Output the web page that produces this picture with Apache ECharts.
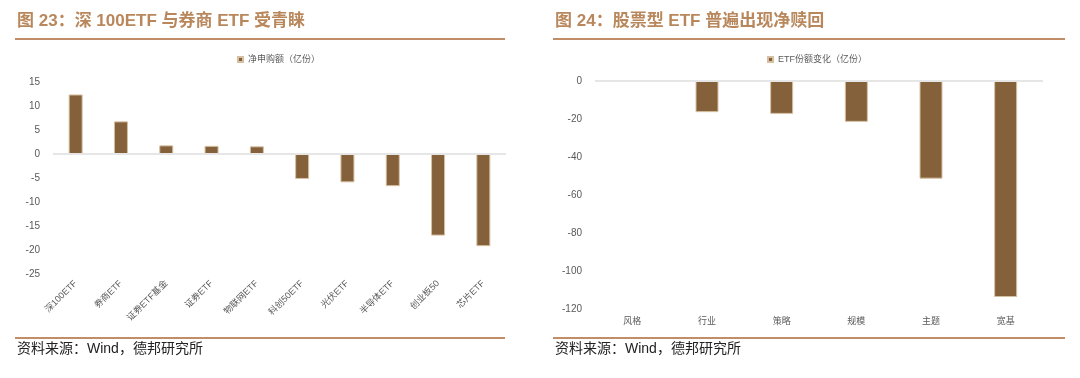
<!DOCTYPE html>
<html>
<head>
<meta charset="utf-8">
<script src="https://cdn.jsdelivr.net/npm/echarts@6/dist/echarts.min.js"></script>
<style>
  html, body { margin: 0; padding: 0; background: #fff; }
  #main { width: 1080px; height: 378px; }
</style>
</head>
<body>
<div id="main"></div>
<script>
// 图23 净申购额
var leftCats = ['深100ETF', '券商ETF', '证券ETF基金', '证券ETF', '物联网ETF', '科创50ETF', '光伏ETF', '半导体ETF', '创业板50', '芯片ETF'];
var leftVals = [12.4, 6.8, 1.8, 1.7, 1.6, -5.2, -5.9, -6.7, -17.0, -19.2];
// 图24 ETF份额变化
var rightCats = ['风格', '行业', '策略', '规模', '主题', '宽基'];
var rightVals = [0, -16.4, -17.3, -21.5, -51.4, -113.7];

var leftName = '净申购额（亿份）';
var rightName = 'ETF份额变化（亿份）';

var barColor = '#84613a';
var brown = '#b9875c';
var gray = '#595959';
var cjk = '"Liberation Sans", "Noto Sans CJK SC", sans-serif';

var myChart = echarts.init(document.getElementById('main'));

function zeroLine() {
  return {
    silent: true,
    symbol: 'none',
    label: { show: false },
    lineStyle: { color: '#e6e6e6', width: 2, type: 'solid' },
    data: [{ yAxis: 0 }]
  };
}

myChart.setOption({
  animation: false,
  legend: [
    {
      data: [leftName],
      left: 232, top: 50,
      icon: 'rect', itemWidth: 5, itemHeight: 5, itemGap: 2,
      textStyle: { color: gray, fontSize: 9, fontFamily: cjk }
    },
    {
      data: [rightName],
      left: 762, top: 50,
      icon: 'rect', itemWidth: 5, itemHeight: 5, itemGap: 2,
      textStyle: { color: gray, fontSize: 9, fontFamily: cjk }
    }
  ],
  grid: [
    { left: 53, top: 82, width: 453, height: 192 },
    { left: 595, top: 81, width: 448, height: 228 }
  ],
  xAxis: [
    {
      type: 'category', gridIndex: 0, data: leftCats,
      axisLine: { show: false, onZero: false },
      axisTick: { show: false },
      axisLabel: { interval: 0, rotate: 45, color: gray, fontSize: 9, fontFamily: cjk, margin: 8 }
    },
    {
      type: 'category', gridIndex: 1, data: rightCats,
      axisLine: { show: false, onZero: false },
      axisTick: { show: false },
      axisLabel: { interval: 0, color: gray, fontSize: 9, fontFamily: cjk, margin: 8 }
    }
  ],
  yAxis: [
    {
      type: 'value', gridIndex: 0, min: -25, max: 15, interval: 5,
      axisLine: { show: false }, axisTick: { show: false }, splitLine: { show: false },
      axisLabel: { color: gray, fontSize: 10, fontFamily: cjk, margin: 13 }
    },
    {
      type: 'value', gridIndex: 1, min: -120, max: 0, interval: 20,
      axisLine: { show: false }, axisTick: { show: false }, splitLine: { show: false },
      axisLabel: { color: gray, fontSize: 10, fontFamily: cjk, margin: 13 }
    }
  ],
  series: [
    {
      name: leftName, type: 'bar', xAxisIndex: 0, yAxisIndex: 0,
      data: leftVals, barWidth: 14,
      itemStyle: { color: barColor, borderColor: '#d6c0a2', borderWidth: 1 },
      markLine: zeroLine(), z: 3
    },
    {
      name: rightName, type: 'bar', xAxisIndex: 1, yAxisIndex: 1,
      data: rightVals, barWidth: 23,
      itemStyle: { color: barColor, borderColor: '#d6c0a2', borderWidth: 1 },
      markLine: zeroLine(), z: 3
    }
  ],
  graphic: [
    {
      type: 'text', left: 17, top: 13,
      style: { text: '图 23：深 100ETF 与券商 ETF 受青睐', fill: brown, fontSize: 17, fontWeight: 'bold', fontFamily: cjk }
    },
    {
      type: 'text', left: 555, top: 13,
      style: { text: '图 24：股票型 ETF 普遍出现净赎回', fill: brown, fontSize: 17, fontWeight: 'bold', fontFamily: cjk }
    },
    { type: 'rect', shape: { x: 15, y: 38, width: 490, height: 2 }, style: { fill: '#c08d66' } },
    { type: 'rect', shape: { x: 553, y: 38, width: 512, height: 2 }, style: { fill: '#c08d66' } },
    { type: 'rect', shape: { x: 15, y: 337, width: 490, height: 2 }, style: { fill: '#c08d66' } },
    { type: 'rect', shape: { x: 553, y: 337, width: 512, height: 2 }, style: { fill: '#c08d66' } },
    {
      type: 'text', left: 17, top: 342,
      style: { text: '资料来源：Wind，德邦研究所', fill: '#222', fontSize: 14, fontFamily: cjk }
    },
    {
      type: 'text', left: 555, top: 342,
      style: { text: '资料来源：Wind，德邦研究所', fill: '#222', fontSize: 14, fontFamily: cjk }
    }
  ]
});
</script>
</body>
</html>
